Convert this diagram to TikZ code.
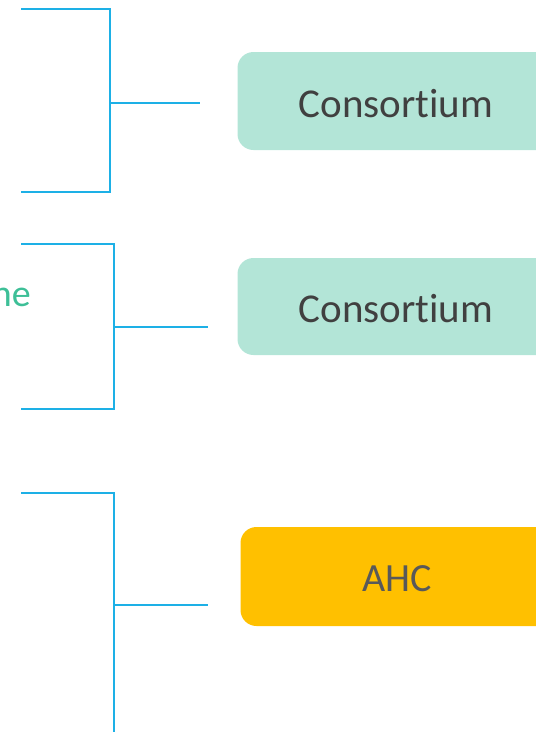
\documentclass[tikz,border=0pt]{standalone}
\usepackage{fontspec}
\setmainfont{Carlito}[Ligatures=NoCommon]
\definecolor{linec}{HTML}{1DB0E6}
\definecolor{mint}{HTML}{B3E5D7}
\definecolor{amber}{HTML}{FFC000}
\definecolor{darkt}{HTML}{404040}
\definecolor{grayt}{HTML}{595959}
\definecolor{greent}{HTML}{3DBF97}
\tikzset{
  brk/.style={draw=linec, line width=2.8pt},
  boxbg/.style={rounded corners=16pt},
  lbl/.style={anchor=base, inner sep=0pt, font=\fontsize{41}{41}\selectfont}
}
\begin{document}
\begin{tikzpicture}[x=1pt,y=-1pt]
\useasboundingbox (0,0) rectangle (536,732);
\clip (0,0) rectangle (536,732);
% bracket 1
\coordinate (a1) at (21,9);
\coordinate (a2) at (110,9);
\coordinate (a3) at (110,192);
\coordinate (a4) at (21,192);
\coordinate (am) at (110,103);
\coordinate (ae) at (200,103);
\draw[brk] (a1) -- (a2) -- (a3) -- (a4);
\draw[brk] (am) -- (ae);
% bracket 2
\coordinate (b1) at (21,244);
\coordinate (b2) at (114,244);
\coordinate (b3) at (114,409);
\coordinate (b4) at (21,409);
\coordinate (bm) at (114,327);
\coordinate (be) at (208,327);
\draw[brk] (b1) -- (b2) -- (b3) -- (b4);
\draw[brk] (bm) -- (be);
% bracket 3
\coordinate (c1) at (21,493);
\coordinate (c2) at (114,493);
\coordinate (c3) at (114,740);
\coordinate (cm) at (114,605);
\coordinate (ce) at (208,605);
\draw[brk] (c1) -- (c2) -- (c3);
\draw[brk] (cm) -- (ce);
% boxes
\fill[mint, boxbg] (237.5,52) rectangle (580,150);
\fill[mint, boxbg] (237.5,258) rectangle (580,355);
\fill[amber, boxbg] (240.5,527) rectangle (580,626);
\node[lbl, text=darkt] (t1) at (396,117) {Consortium};
\node[lbl, text=darkt] (t2) at (396,322) {Consortium};
\node[lbl, text=grayt, font=\fontsize{40}{40}\selectfont] (t3) at (397.5,591) {AHC};
% cut-off label (cut at the left edge as in the reference)
\node[anchor=base east, inner sep=0pt, text=greent, font=\fontsize{38}{38}\selectfont] (g) at (31,306) {ne};
\end{tikzpicture}
\end{document}
